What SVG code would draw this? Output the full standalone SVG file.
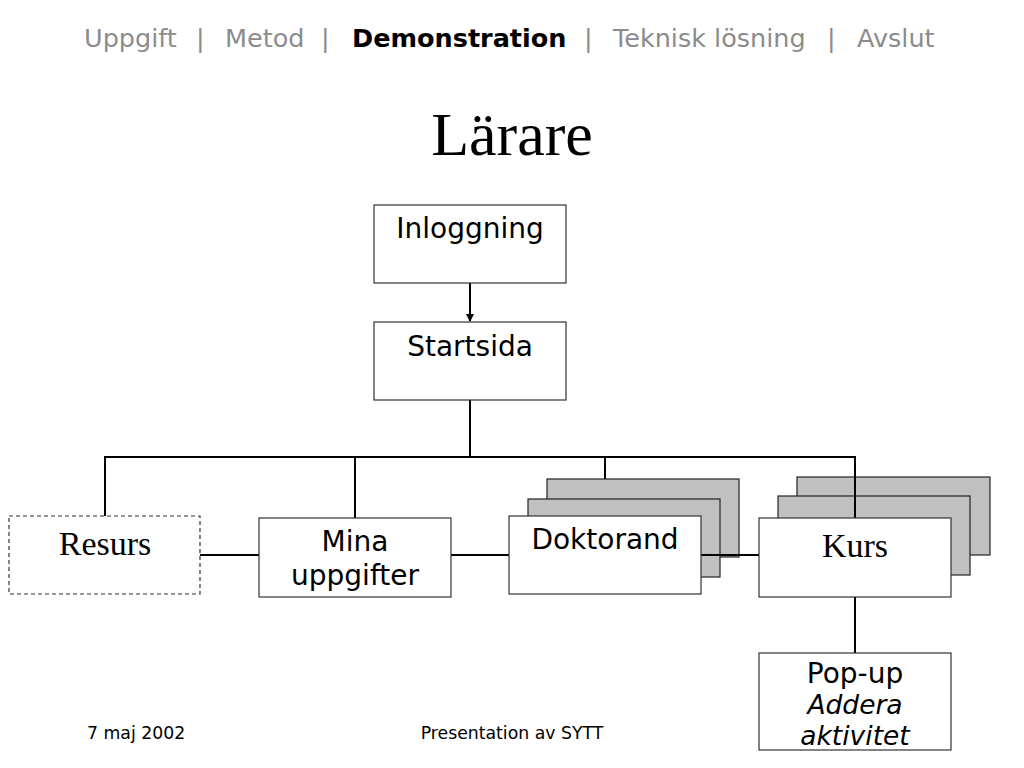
<svg xmlns="http://www.w3.org/2000/svg" width="1024" height="768" viewBox="0 0 1024 768">
<style>
.box{fill:#fff;stroke:#333;stroke-width:1.2}
.sh{fill:#c0c0c0;stroke:#222;stroke-width:1.2}
.dash{fill:#fff;stroke:#333;stroke-width:1.2;stroke-dasharray:4 3}
.ln{stroke:#000;stroke-width:2;fill:none}
.sans{font-family:"DejaVu Sans",Verdana,sans-serif;fill:#000}
.serif{font-family:"Liberation Serif","Times New Roman",serif;fill:#000}
.nav{font-family:"DejaVu Sans",Verdana,sans-serif;font-size:25.5px;fill:#8c8c8c}
.t{font-size:28px;text-anchor:middle}
.it{font-size:26.5px;font-style:italic}
</style>
<defs>
<marker id="arr" markerWidth="8" markerHeight="8" refX="7" refY="4" orient="auto" markerUnits="userSpaceOnUse">
<path d="M0,0 L8,4 L0,8 Z" fill="#000"/>
</marker>
</defs>
<rect width="1024" height="768" fill="#fff"/>
<g id="header">
<text class="nav" x="84" y="47">Uppgift</text>
<text class="nav" x="196" y="47">|</text>
<text class="nav" x="225" y="47">Metod</text>
<text class="nav" x="321" y="47">|</text>
<text class="nav" x="352" y="47" font-weight="bold" style="fill:#000">Demonstration</text>
<text class="nav" x="584" y="47">|</text>
<text class="nav" x="613" y="47">Teknisk lösning</text>
<text class="nav" x="827" y="47">|</text>
<text class="nav" x="857" y="47">Avslut</text>
</g>
<text class="serif" x="512" y="155" font-size="62" text-anchor="middle">Lärare</text>
<g id="connectors">
<line class="ln" x1="470" y1="283" x2="470" y2="321" marker-end="url(#arr)"/>
<line class="ln" x1="470" y1="400" x2="470" y2="457"/>
<line class="ln" x1="104" y1="457" x2="856" y2="457"/>
<line class="ln" x1="105" y1="457" x2="105" y2="516"/>
<line class="ln" x1="355" y1="457" x2="355" y2="518"/>
<line class="ln" x1="605" y1="457" x2="605" y2="479"/>
<line class="ln" x1="200" y1="555" x2="259" y2="555"/>
<line class="ln" x1="451" y1="555" x2="509" y2="555"/>
<line class="ln" x1="855" y1="597" x2="855" y2="653"/>
</g>
<g id="inloggning">
<rect class="box" x="374" y="205" width="192" height="78"/>
<text class="sans t" x="470" y="238">Inloggning</text>
</g>
<g id="startsida">
<rect class="box" x="374" y="322" width="192" height="78"/>
<text class="sans t" x="470" y="356">Startsida</text>
</g>
<g id="resurs">
<rect class="dash" x="9" y="516" width="191" height="78"/>
<text class="serif" x="105" y="555" font-size="34" text-anchor="middle">Resurs</text>
</g>
<g id="mina">
<rect class="box" x="259" y="518" width="192" height="79"/>
<text class="sans t" x="355" y="551">Mina</text>
<text class="sans t" x="355" y="585">uppgifter</text>
</g>
<g id="doktorand">
<rect class="sh" x="547" y="479" width="192" height="78"/>
<rect class="sh" x="528" y="499" width="192" height="78"/>
<line class="ln" x1="701" y1="555" x2="759" y2="555"/>
<rect class="box" x="509" y="516" width="192" height="78"/>
<text class="sans t" x="605" y="549">Doktorand</text>
</g>
<g id="kurs">
<rect class="sh" x="797" y="477" width="193" height="78"/>
<rect class="sh" x="778" y="496" width="192" height="79"/>
<line class="ln" x1="855" y1="457" x2="855" y2="518"/>
<rect class="box" x="759" y="518" width="192" height="79"/>
<text class="serif" x="855" y="557" font-size="34" text-anchor="middle">Kurs</text>
</g>
<g id="popup">
<rect class="box" x="759" y="653" width="192" height="97"/>
<text class="sans t" x="855" y="683" font-size="27">Pop-up</text>
<text class="sans t it" x="855" y="714">Addera</text>
<text class="sans t it" x="855" y="745">aktivitet</text>
</g>
<g id="footer">
<text class="sans" x="87" y="739" font-size="17.3">7 maj 2002</text>
<text class="sans" x="512" y="739" font-size="17.3" text-anchor="middle">Presentation av SYTT</text>
</g>
</svg>
